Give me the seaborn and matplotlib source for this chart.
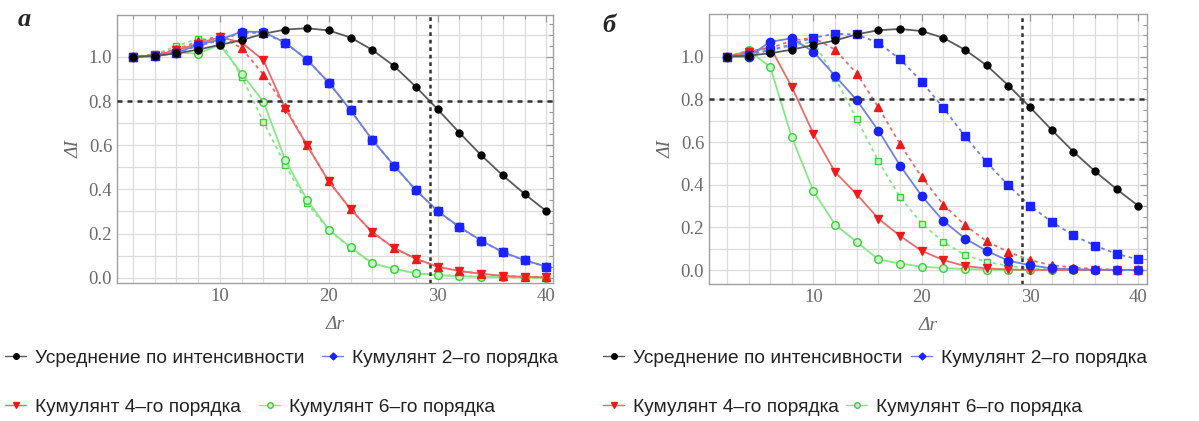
import numpy as np
import pandas as pd
import matplotlib
matplotlib.use("Agg")
import matplotlib.pyplot as plt
import seaborn as sns

# Sample separation values
dr = [2, 4, 6, 8, 10, 12, 14, 16, 18, 20, 22, 24, 26, 28, 30, 32, 34, 36, 38, 40]

# Intensity averaging (same in both panels)
int_avg = [1.00, 1.005, 1.016, 1.033, 1.055, 1.076, 1.105, 1.124, 1.13, 1.12,
           1.088, 1.032, 0.959, 0.865, 0.763, 0.657, 0.555, 0.463, 0.379, 0.301]

# Panel (а)
a_c2 = [1.00, 1.003, 1.018, 1.056, 1.078, 1.115, 1.113, 1.065, 0.988, 0.884,
        0.759, 0.624, 0.508, 0.397, 0.302, 0.230, 0.168, 0.116, 0.079, 0.050]
a_c2_alt = [1.00, 1.005, 1.020, 1.050, 1.075, 1.110, 1.108, 1.065, 0.988, 0.884,
            0.759, 0.625, 0.507, 0.397, 0.302, 0.229, 0.167, 0.115, 0.078, 0.050]
a_c4 = [1.00, 1.008, 1.030, 1.060, 1.090, 1.065, 0.985, 0.766, 0.600, 0.436,
        0.311, 0.206, 0.135, 0.086, 0.050, 0.030, 0.018, 0.008, 0.004, 0.002]
a_c4_alt = [1.00, 1.010, 1.035, 1.070, 1.095, 1.040, 0.920, 0.775, 0.600, 0.438,
            0.310, 0.205, 0.134, 0.085, 0.050, 0.030, 0.018, 0.008, 0.004, 0.002]
a_c6 = [1.00, 1.005, 1.020, 1.015, 1.055, 0.925, 0.797, 0.534, 0.353, 0.218,
        0.138, 0.065, 0.040, 0.020, 0.012, 0.007, 0.004, 0.002, 0.001, 0.000]
a_c6_alt = [1.00, 1.012, 1.048, 1.083, 1.075, 0.910, 0.707, 0.511, 0.338, 0.215,
            0.135, 0.065, 0.040, 0.020, 0.012, 0.007, 0.004, 0.002, 0.001, 0.000]

# Panel (б)
b_c2 = [1.00, 1.000, 1.070, 1.086, 1.023, 0.910, 0.796, 0.653, 0.490, 0.347,
        0.230, 0.148, 0.090, 0.044, 0.023, 0.008, 0.004, 0.002, 0.001, 0.000]
b_c2_alt = [1.00, 1.010, 1.030, 1.058, 1.089, 1.107, 1.104, 1.065, 0.988, 0.883,
            0.759, 0.627, 0.505, 0.397, 0.302, 0.226, 0.163, 0.115, 0.076, 0.050]
b_c4 = [1.00, 1.020, 1.045, 0.858, 0.638, 0.459, 0.355, 0.241, 0.160, 0.090,
        0.047, 0.019, 0.008, 0.003, 0.001, 0.000, 0.000, 0.000, 0.000, 0.000]
b_c4_alt = [1.00, 1.025, 1.040, 1.075, 1.089, 1.033, 0.921, 0.762, 0.590, 0.435,
            0.306, 0.210, 0.135, 0.085, 0.047, 0.023, 0.012, 0.006, 0.002, 0.000]
b_c6 = [1.00, 1.030, 0.952, 0.622, 0.369, 0.213, 0.132, 0.050, 0.031, 0.016,
        0.010, 0.005, 0.002, 0.001, 0.000, 0.000, 0.000, 0.000, 0.000, 0.000]
b_c6_alt = [1.00, 1.020, 1.030, 1.050, 1.070, 0.900, 0.708, 0.510, 0.342, 0.218,
            0.132, 0.070, 0.039, 0.019, 0.008, 0.004, 0.002, 0.001, 0.000, 0.000]

threshold = 0.8

labels = ["Усреднение по интенсивности", "Кумулянт 2\u2013го порядка",
          "Кумулянт 4\u2013го порядка", "Кумулянт 6\u2013го порядка"]
panel_names = ["а", "б"]

sns.set_theme(style="white")
plt.rcParams["font.family"] = ["Liberation Sans", "DejaVu Sans"]

W, H = 1199, 421
fig = plt.figure(figsize=(W / 100, H / 100), dpi=100)

ax_a = fig.add_axes([117 / W, 1 - 283 / H, 436 / W, 268 / H])
ax_b = fig.add_axes([709 / W, 1 - 284 / H, 438 / W, 270 / H])

line_styles = {
    "black": dict(line="#5a5a5a", face="black"),
    "blue": dict(line="#6f7fe6", face="#1a22ff"),
    "red": dict(line="#ee6a6a", face="#ee1a1a"),
    "green": dict(line="#86e886", face="#c8f5c8", edge="#3ccf3c"),
}


def draw(ax, y, key, marker, dotted=False, ms=5.5):
    st = line_styles[key]
    df = pd.DataFrame({"dr": dr, "val": y})
    edge = st.get("edge", st["face"])
    sns.lineplot(data=df, x="dr", y="val", ax=ax, color=st["line"],
                 linestyle=(0, (2, 2)) if dotted else "-", linewidth=1.3,
                 marker=marker, markersize=ms, markerfacecolor=st["face"],
                 markeredgecolor=edge, markeredgewidth=1.0)


def cross_point(xs, ys, level):
    xs = np.asarray(xs, float)
    ys = np.asarray(ys, float)
    idx = np.where((ys[:-1] >= level) & (ys[1:] < level))[0][-1]
    t = (ys[idx] - level) / (ys[idx] - ys[idx + 1])
    return xs[idx] + t * (xs[idx + 1] - xs[idx])


def style_axes(ax, ylim, xlim):
    ax.set_xlim(*xlim)
    ax.set_ylim(*ylim)
    ax.set_xticks([10, 20, 30, 40])
    ax.set_xticks(np.arange(2, 41, 2), minor=True)
    ax.set_yticks(np.round(np.arange(0, 1.01, 0.2), 1))
    ax.set_yticks(np.round(np.arange(0, 1.16, 0.05), 2), minor=True)
    ax.set_yticklabels([f"{v:.1f}" for v in np.arange(0, 1.01, 0.2)])
    for v in np.arange(2, 41, 2):
        ax.axvline(v, color="#dcdcdc", lw=0.9, zorder=0)
    for v in np.arange(0, 1.15, 0.1):
        ax.axhline(v, color="#dcdcdc", lw=0.9, zorder=0)
    ax.tick_params(which="both", direction="in", top=True, right=True,
                   colors="#9a9a9a", labelcolor="#6a6a6a", labelsize=13.5)
    ax.tick_params(which="major", length=5, width=0.9)
    ax.tick_params(which="minor", length=3, width=0.8)
    for lab in ax.get_xticklabels() + ax.get_yticklabels():
        lab.set_fontfamily("Liberation Serif")
    for sp in ax.spines.values():
        sp.set_color("#a0a0a0")
        sp.set_linewidth(1.0)
    ax.set_xlabel("Δr", fontsize=14, family="Liberation Serif", style="italic",
                  color="#6a6a6a", labelpad=8)
    ax.set_ylabel("ΔI", fontsize=14, family="Liberation Serif", style="italic",
                  color="#6a6a6a", labelpad=4)


panels = [
    (ax_a, (a_c2, a_c2_alt), (a_c4, a_c4_alt), (a_c6, a_c6_alt),
     (-0.024, 1.19), (0.55, 40.6)),
    (ax_b, (b_c2, b_c2_alt), (b_c4, b_c4_alt), (b_c6, b_c6_alt),
     (-0.065, 1.2), (0.35, 40.8)),
]

for ax, c2, c4, c6, ylim, xlim in panels:
    draw(ax, c6[1], "green", "s", dotted=True, ms=5)
    draw(ax, c6[0], "green", "o", ms=5.5)
    draw(ax, c4[1], "red", "^", dotted=True, ms=5.5)
    draw(ax, c4[0], "red", "v", ms=5.5)
    draw(ax, c2[1], "blue", "s", dotted=True, ms=5.5)
    draw(ax, c2[0], "blue", "o", ms=6)
    draw(ax, int_avg, "black", "o", ms=5)
    ax.axhline(threshold, color="#333333", lw=1.8, ls=(0, (2, 2)), zorder=5)
    ax.axvline(cross_point(dr, int_avg, threshold), color="#333333", lw=1.8,
               ls=(0, (1.5, 1.5)), zorder=5)
    style_axes(ax, ylim, xlim)

# Panel letters
fig.text(18 / W, 1 - 20 / H, panel_names[0], fontsize=19, family="Liberation Serif",
         style="italic", weight="bold", va="center", ha="left")
fig.text(602 / W, 1 - 25 / H, panel_names[1], fontsize=19, family="Liberation Serif",
         style="italic", weight="bold", va="center", ha="left")

# Legend entries beneath each panel
legend_marks = [
    dict(marker="o", color="#5a5a5a", mfc="black", mec="black", ms=4),
    dict(marker="D", color="#6f7fe6", mfc="#1a22ff", mec="#1a22ff", ms=3.5),
    dict(marker="v", color="#ee6a6a", mfc="#ee1a1a", mec="#ee1a1a", ms=4.5),
    dict(marker="o", color="#86e886", mfc="#c8f5c8", mec="#3ccf3c", ms=4),
]
positions = [
    [(5, 358), (322, 358), (5, 407), (259, 407)],
    [(603, 358), (911, 358), (603, 407), (846, 407)],
]
for pos in positions:
    for (px, py), lab, mk in zip(pos, labels, legend_marks):
        h = plt.Line2D([], [], lw=1.0, **mk)
        leg = fig.legend([h], [lab], loc="center left",
                         bbox_to_anchor=(px / W, 1 - py / H), frameon=False,
                         borderpad=0, borderaxespad=0, handlelength=1.1,
                         handletextpad=0.45, fontsize=13.8)
        for t in leg.get_texts():
            t.set_color("#222222")

fig.savefig("out.png", dpi=100)
